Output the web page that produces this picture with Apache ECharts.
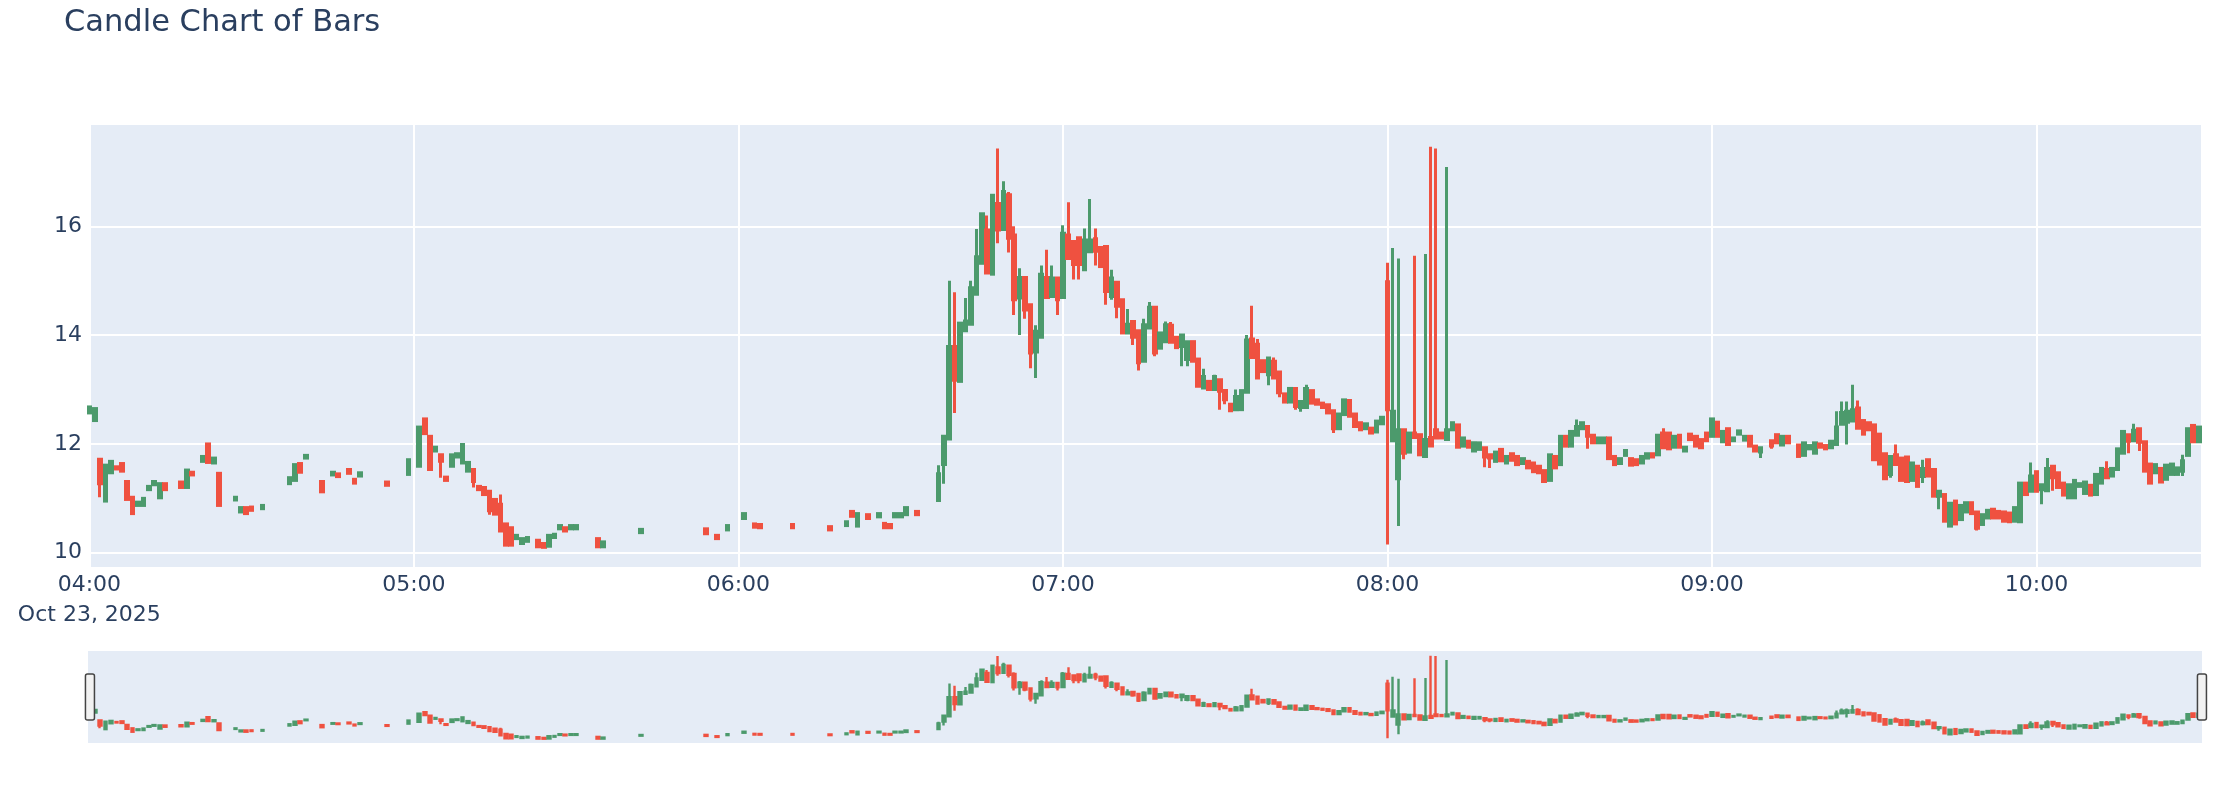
<!DOCTYPE html>
<html>
<head>
<meta charset="utf-8">
<script src="https://cdn.jsdelivr.net/npm/echarts@6/dist/echarts.min.js"></script>
<style>
html,body{margin:0;padding:0;background:#ffffff;}
#chart{width:2220px;height:800px;}
</style>
</head>
<body>
<div id="chart"></div>
<script>
// ---- data ----
const chartTitle = 'Candle Chart of Bars';
const dateLabel = 'Oct 23, 2025';

const times = [
"04:00","04:01","04:02","04:03","04:04","04:05","04:06","04:07","04:08","04:09","04:10","04:11","04:12","04:13","04:14","04:17","04:18","04:19","04:21","04:22","04:23","04:24","04:27","04:28","04:29","04:30","04:32","04:37","04:38","04:39","04:40","04:43","04:45","04:46","04:48","04:49","04:50","04:55","04:59",
"05:01","05:02","05:03","05:04","05:05","05:06","05:07","05:08","05:09","05:10","05:11","05:12","05:13","05:14","05:15","05:16","05:17","05:18","05:19","05:20","05:21","05:23","05:24","05:25","05:26","05:27","05:28","05:29","05:30","05:34","05:35","05:42","05:54","05:56","05:58",
"06:01","06:03","06:04","06:10","06:17","06:20","06:21","06:22","06:24","06:26","06:27","06:28","06:29","06:30","06:31","06:33",
"06:37","06:38","06:39","06:40","06:41","06:42","06:43","06:44","06:45","06:46","06:47","06:48","06:49","06:50","06:51","06:52","06:53","06:54","06:55","06:56","06:57","06:58","06:59",
"07:00","07:01","07:02","07:03","07:04","07:05","07:06","07:07","07:08","07:09","07:10","07:11","07:12","07:13","07:14","07:15","07:16","07:17","07:18","07:19",
"07:20","07:21","07:22","07:23","07:24","07:25","07:26","07:27","07:28","07:29","07:30","07:31","07:32","07:33","07:34","07:35","07:36","07:37","07:38","07:39",
"07:40","07:41","07:42","07:43","07:44","07:45","07:46","07:47","07:48","07:49","07:50","07:51","07:52","07:53","07:54","07:55","07:56","07:57","07:58","07:59",
"08:00","08:01","08:02","08:03","08:04","08:05","08:06","08:07","08:08","08:09","08:10","08:11","08:12","08:13","08:14","08:15","08:16","08:17","08:18","08:19",
"08:20","08:21","08:22","08:23","08:24","08:25","08:26","08:27","08:28","08:29","08:30","08:31","08:32","08:33","08:34","08:35","08:36","08:37","08:38","08:39",
"08:40","08:41","08:42","08:43","08:44","08:45","08:46","08:47","08:48","08:49","08:50","08:51","08:52","08:53","08:54","08:55","08:56","08:57","08:58","08:59",
"09:00","09:01","09:02","09:03","09:04","09:05","09:06","09:07","09:08","09:09","09:11","09:12","09:13","09:14",
"09:16","09:17","09:18","09:19","09:20","09:21","09:22","09:23","09:24","09:25","09:26","09:27","09:28","09:29",
"09:30","09:31","09:32","09:33","09:34","09:35","09:36","09:37","09:38","09:39","09:40","09:41","09:42","09:43","09:44","09:45","09:46","09:47","09:48","09:49",
"09:50","09:51","09:52","09:53","09:54","09:55","09:56","09:57","09:58","09:59",
"10:00","10:01","10:02","10:03","10:04","10:05","10:06","10:07","10:08","10:09","10:10","10:11","10:12","10:13","10:14","10:15","10:16","10:17","10:18","10:19",
"10:20","10:21","10:22","10:23","10:24","10:25","10:26","10:27","10:28","10:29","10:30"
];

const opens = [
12.57,12.43,11.72,10.95,11.47,11.58,11.64,11.31,11.02,10.87,10.87,11.16,11.25,11.01,11.27,11.30,11.20,11.48,11.68,12.00,11.65,11.46,10.97,10.75,10.83,10.84,10.81,11.27,11.33,11.64,11.74,11.31,11.43,11.45,11.53,11.35,11.41,11.30,11.44,
11.59,12.46,12.14,11.87,11.80,11.39,11.59,11.76,11.65,11.50,11.53,11.22,11.20,11.13,10.98,10.89,10.53,10.46,10.26,10.17,10.21,10.23,10.17,10.12,10.28,10.44,10.46,10.44,10.44,10.26,10.11,10.37,10.44,10.32,10.42,
10.63,10.53,10.52,10.52,10.48,10.50,10.76,10.49,10.70,10.66,10.54,10.52,10.66,10.66,10.70,10.76,
10.96,11.62,12.09,13.79,13.15,14.08,14.20,14.75,15.32,15.93,15.12,16.42,15.94,16.58,15.84,14.68,15.06,14.56,13.69,13.96,15.06,14.71,15.05,
14.69,15.84,15.72,15.79,15.20,15.53,15.77,15.61,15.63,14.71,14.97,14.65,14.04,14.25,14.08,13.52,14.13,14.51,13.76,13.88,
14.18,13.96,13.79,13.55,13.88,13.56,13.03,13.15,13.00,13.18,12.98,12.73,12.63,12.63,12.95,13.93,13.83,13.53,13.27,13.52,
13.32,12.92,12.77,13.02,12.67,12.67,12.98,12.81,12.75,12.72,12.61,12.28,12.54,12.80,12.55,12.39,12.28,12.29,12.22,12.37,
14.98,12.06,11.36,12.26,11.85,12.20,12.17,11.77,12.12,12.26,12.20,12.08,12.26,12.35,11.96,12.05,11.87,11.90,11.93,11.80,
11.68,11.90,11.65,11.82,11.77,11.64,11.68,11.65,11.59,11.51,11.33,11.77,11.62,12.14,11.96,12.16,12.28,12.32,12.16,12.02,
12.02,12.11,11.77,11.64,11.79,11.73,11.71,11.65,11.74,11.82,11.80,12.20,12.20,11.94,12.16,11.87,12.18,12.14,12.08,12.20,
12.14,12.40,12.04,12.28,12.06,12.18,12.07,12.14,11.96,11.85,12.06,12.17,11.98,12.14,
11.98,11.79,11.91,11.83,12.00,11.97,11.93,11.99,12.36,12.40,12.42,12.66,12.43,12.39,
12.35,12.18,11.82,11.44,11.80,11.74,11.76,11.33,11.59,11.40,11.71,11.53,11.04,11.07,10.49,10.95,10.61,10.75,10.92,10.75,
10.52,10.64,10.80,10.76,10.75,10.73,10.58,10.57,11.28,11.13,
11.49,11.16,11.14,11.59,11.47,11.28,11.01,11.01,11.22,11.09,11.24,11.07,11.28,11.53,11.41,11.53,11.83,12.17,12.06,12.28,
12.04,11.63,11.47,11.55,11.35,11.44,11.44,11.50,11.79,12.34,12.04
];

const closes = [
12.68,12.65,11.27,11.61,11.68,11.54,11.50,10.98,10.72,10.93,11.00,11.22,11.31,11.27,11.16,11.20,11.52,11.43,11.77,11.66,11.74,10.87,11.02,10.83,10.72,10.78,10.87,11.38,11.62,11.48,11.79,11.12,11.48,11.40,11.46,11.28,11.47,11.24,11.71,
12.31,12.19,11.53,11.94,11.68,11.33,11.80,11.82,11.99,11.66,11.31,11.16,11.07,10.77,10.71,10.40,10.14,10.14,10.32,10.26,10.28,10.11,10.10,10.32,10.34,10.50,10.40,10.50,10.50,10.11,10.20,10.43,10.35,10.26,10.50,
10.72,10.47,10.46,10.46,10.42,10.57,10.67,10.72,10.63,10.72,10.46,10.46,10.72,10.72,10.83,10.70,
11.45,12.14,13.79,13.17,14.22,14.26,14.87,15.44,16.23,15.14,16.57,15.93,16.64,15.78,14.65,15.06,14.46,13.67,14.07,15.12,14.69,15.05,14.65,
15.87,15.41,15.30,15.30,15.75,15.75,15.54,15.26,14.80,15.05,14.53,14.04,14.20,13.96,13.49,14.19,14.51,13.67,14.04,14.19,
13.87,13.77,14.00,13.88,13.52,13.06,13.24,13.00,13.24,12.97,12.81,12.61,12.87,12.98,13.91,13.59,13.21,13.33,13.58,13.21,
12.94,12.77,13.02,12.69,12.78,13.02,12.75,12.73,12.67,12.57,12.28,12.55,12.81,12.51,12.32,12.26,12.37,12.20,12.42,12.49,
12.63,12.60,12.26,11.83,12.20,12.12,11.80,12.08,11.96,12.11,12.11,12.26,12.39,11.94,12.11,11.94,12.02,12.02,11.76,11.74,
11.85,11.69,11.77,11.70,11.62,11.73,11.56,11.49,11.47,11.31,11.80,11.56,12.14,11.96,12.23,12.32,12.39,12.14,12.02,12.11,
12.11,11.73,11.62,11.73,11.88,11.61,11.62,11.77,11.82,11.76,12.16,11.93,11.91,12.14,11.94,11.94,12.08,11.96,11.93,12.06,
12.46,12.14,12.23,11.99,12.11,12.24,12.14,11.96,11.87,11.93,11.96,12.02,12.14,12.02,
11.77,12.02,11.97,12.02,11.94,11.91,12.05,12.31,12.58,12.60,12.63,12.29,12.18,12.26,
11.71,11.63,11.36,11.77,11.62,11.33,11.31,11.65,11.22,11.55,11.41,11.04,11.13,10.58,10.91,10.53,10.87,10.92,10.72,10.45,
10.70,10.78,10.64,10.64,10.58,10.57,10.83,11.28,11.07,11.41,
11.13,11.25,11.55,11.38,11.20,11.06,11.25,11.33,11.27,11.30,11.06,11.44,11.55,11.38,11.55,11.91,12.23,12.05,12.25,12.03,
11.50,11.28,11.62,11.30,11.61,11.63,11.56,11.69,12.28,12.04,12.31
];

const lows = [
12.57,12.43,11.02,10.95,11.47,11.54,11.50,10.98,10.72,10.87,10.87,11.16,11.25,11.01,11.16,11.20,11.20,11.43,11.68,11.66,11.65,10.87,10.97,10.75,10.72,10.78,10.81,11.27,11.33,11.48,11.74,11.12,11.43,11.40,11.46,11.28,11.41,11.24,11.44,
11.59,12.19,11.53,11.87,11.38,11.33,11.59,11.76,11.65,11.50,11.20,11.16,11.07,10.70,10.71,10.40,10.14,10.14,10.26,10.17,10.21,10.11,10.10,10.12,10.28,10.44,10.40,10.44,10.44,10.11,10.11,10.37,10.35,10.26,10.42,
10.63,10.47,10.46,10.46,10.42,10.50,10.67,10.49,10.63,10.66,10.46,10.46,10.66,10.66,10.70,10.70,
10.96,11.27,12.09,12.57,13.15,14.08,14.20,14.75,15.32,15.14,15.12,15.69,15.94,15.52,14.37,14.00,14.30,13.39,13.21,13.96,14.69,14.71,14.37,
14.69,15.41,15.02,15.02,15.20,15.53,15.28,15.26,14.56,14.65,14.31,14.04,14.04,13.82,13.35,13.52,14.13,13.61,13.76,13.88,
13.87,13.77,13.43,13.43,13.52,13.06,13.03,13.00,13.00,12.63,12.73,12.61,12.63,12.63,12.95,13.59,13.21,13.33,13.08,13.21,
12.86,12.77,12.77,12.63,12.59,12.67,12.75,12.73,12.67,12.57,12.20,12.28,12.54,12.48,12.32,12.26,12.28,12.20,12.22,12.37,
10.15,12.06,10.49,11.72,11.85,12.12,11.80,11.77,11.96,12.11,12.11,12.08,12.26,11.94,11.96,11.94,11.86,11.90,11.57,11.56,
11.68,11.69,11.65,11.70,11.62,11.64,11.56,11.49,11.47,11.31,11.33,11.56,11.62,11.96,11.96,12.16,12.28,11.91,12.02,12.02,
12.02,11.73,11.62,11.64,11.79,11.61,11.62,11.65,11.74,11.76,11.80,11.93,11.91,11.94,11.94,11.87,12.08,11.96,11.93,12.06,
12.14,12.14,12.04,11.99,12.06,12.18,12.07,11.96,11.87,11.74,11.91,12.02,11.98,12.02,
11.77,11.79,11.91,11.83,11.94,11.91,11.93,11.99,12.36,11.99,12.42,12.29,12.18,12.26,
11.71,11.63,11.34,11.38,11.62,11.33,11.31,11.33,11.22,11.28,11.41,11.04,10.80,10.58,10.49,10.53,10.61,10.75,10.72,10.41,
10.52,10.64,10.64,10.64,10.58,10.57,10.58,10.57,11.07,11.13,
11.13,10.89,11.14,11.14,11.20,11.06,11.01,11.01,11.22,11.09,11.06,11.07,11.28,11.38,11.41,11.53,11.83,11.83,12.06,11.87,
11.50,11.28,11.47,11.30,11.35,11.44,11.44,11.41,11.79,12.04,12.04
];

const highs = [
12.68,12.65,11.72,11.61,11.68,11.58,11.64,11.31,11.02,10.93,11.00,11.22,11.31,11.27,11.27,11.30,11.52,11.48,11.77,12.00,11.74,11.46,11.02,10.83,10.83,10.84,10.87,11.38,11.62,11.64,11.79,11.31,11.48,11.45,11.53,11.35,11.47,11.30,11.71,
12.31,12.46,12.14,11.94,11.80,11.39,11.80,11.82,11.99,11.66,11.53,11.22,11.20,11.13,10.98,11.07,10.53,10.46,10.32,10.26,10.28,10.23,10.17,10.32,10.34,10.50,10.46,10.50,10.50,10.26,10.20,10.43,10.44,10.32,10.50,
10.72,10.53,10.52,10.52,10.48,10.57,10.76,10.72,10.70,10.72,10.54,10.52,10.72,10.72,10.83,10.76,
11.61,12.14,15.00,14.79,14.22,14.68,15.00,15.95,16.23,16.20,16.57,17.43,16.83,16.63,16.00,15.23,15.06,14.56,14.18,15.28,15.57,15.28,15.05,
16.02,16.44,15.72,15.79,15.96,16.50,15.96,15.61,15.63,15.20,14.97,14.65,14.48,14.25,14.08,14.30,14.61,14.51,14.04,14.25,
14.24,13.96,14.00,13.88,13.88,13.56,13.38,13.15,13.27,13.18,12.98,12.73,13.00,12.98,14.00,14.54,13.93,13.53,13.58,13.59,
13.32,12.92,13.02,13.02,12.78,13.09,12.98,12.81,12.75,12.72,12.61,12.55,12.81,12.80,12.55,12.39,12.37,12.29,12.42,12.49,
15.33,15.60,15.41,12.26,12.20,15.46,12.17,15.49,17.46,17.43,12.20,17.09,12.39,12.35,12.11,12.05,12.02,12.02,11.93,11.80,
11.85,11.90,11.77,11.82,11.77,11.73,11.68,11.65,11.59,11.51,11.80,11.77,12.14,12.14,12.23,12.45,12.39,12.32,12.16,12.11,
12.11,12.11,11.77,11.73,11.88,11.73,11.71,11.77,11.82,11.82,12.16,12.29,12.20,12.14,12.16,11.94,12.18,12.14,12.08,12.20,
12.46,12.40,12.23,12.28,12.11,12.24,12.14,12.14,11.96,11.93,12.06,12.17,12.14,12.14,
11.98,12.02,11.97,12.02,12.00,11.97,12.05,12.60,12.78,12.78,13.09,12.80,12.43,12.39,
12.35,12.18,11.82,11.77,11.99,11.74,11.76,11.65,11.59,11.71,11.71,11.53,11.13,11.07,10.91,10.95,10.87,10.92,10.92,10.75,
10.70,10.78,10.80,10.76,10.75,10.73,10.83,11.28,11.28,11.66,
11.49,11.25,11.74,11.59,11.47,11.28,11.25,11.33,11.27,11.30,11.24,11.44,11.55,11.68,11.55,11.91,12.23,12.17,12.37,12.28,
12.04,11.63,11.62,11.55,11.61,11.63,11.56,11.80,12.28,12.34,12.31
];

// ---- build ----
function toTs(hhmm) {
  const p = hhmm.split(':');
  return new Date(2025, 9, 23, +p[0], +p[1]).getTime();
}
const candleData = times.map((t, i) => [toTs(t), opens[i], closes[i], lows[i], highs[i]]);

const xMin = toTs(times[0]) - 15 * 1000;
const xMax = toTs(times[times.length - 1]) + 36 * 1000;
const yMin = 9.72, yMax = 17.88;

const FONT = 'DejaVu Sans, Verdana, sans-serif';
const INK = '#2a3f5f';
const PLOT_BG = '#E5ECF6';
const UP_LINE = '#4C9A6C', DOWN_LINE = '#EF5140';
const UP_FILL = '#569A72', DOWN_FILL = '#EE5647';

function pad2(n) { return (n < 10 ? '0' : '') + n; }

const candleStyle = {
  color: UP_FILL, color0: DOWN_FILL,
  borderColor: UP_LINE, borderColor0: DOWN_LINE,
  borderWidth: 3
};

const chart = echarts.init(document.getElementById('chart'), null, { renderer: 'canvas' });
chart.setOption({
  animation: false,
  backgroundColor: '#ffffff',
  title: {
    text: chartTitle, left: 59, top: 3,
    textStyle: { fontFamily: FONT, fontSize: 30.5, fontWeight: 'normal', color: INK }
  },
  grid: [
    { left: 88, top: 124, width: 2114, height: 444, show: true, backgroundColor: PLOT_BG, borderWidth: 0, outerBoundsMode: 'none', containLabel: false },
    { left: 88, top: 651, width: 2114, height: 92, show: true, backgroundColor: PLOT_BG, borderWidth: 0, outerBoundsMode: 'none', containLabel: false }
  ],
  xAxis: [
    {
      type: 'time', gridIndex: 0, min: xMin, max: xMax,
      minInterval: 3600 * 1000, maxInterval: 3600 * 1000,
      axisLine: { show: false }, axisTick: { show: false },
      splitLine: { show: true, lineStyle: { color: '#ffffff', width: 2 } },
      axisLabel: {
        show: true, showMinLabel: false, showMaxLabel: false, hideOverlap: false,
        margin: 2, color: INK, fontFamily: FONT, fontSize: 22, lineHeight: 30,
        formatter: function (val) {
          const d = new Date(val);
          const s = pad2(d.getHours()) + ':' + pad2(d.getMinutes());
          return (d.getHours() === 4 && d.getMinutes() === 0) ? s + '\n' + dateLabel : s;
        }
      },
      axisPointer: { show: false }
    },
    {
      type: 'time', gridIndex: 1, min: xMin, max: xMax,
      axisLine: { show: false }, axisTick: { show: false },
      splitLine: { show: false }, axisLabel: { show: false }
    }
  ],
  yAxis: [
    {
      type: 'value', gridIndex: 0, min: yMin, max: yMax, scale: true,
      axisLine: { show: false }, axisTick: { show: false },
      splitLine: { show: true, lineStyle: { color: '#ffffff', width: 2 } },
      axisLabel: { showMinLabel: false, showMaxLabel: false, margin: 6, color: INK, fontFamily: FONT, fontSize: 22 }
    },
    {
      type: 'value', gridIndex: 1, min: yMin, max: yMax, scale: true,
      axisLine: { show: false }, axisTick: { show: false },
      splitLine: { show: false }, axisLabel: { show: false }
    }
  ],
  dataZoom: [{
    type: 'slider', xAxisIndex: [0], start: 0, end: 100, filterMode: 'none',
    left: 88, width: 2114, top: 651, height: 92,
    backgroundColor: 'rgba(0,0,0,0)', borderColor: 'rgba(0,0,0,0)',
    fillerColor: 'rgba(0,0,0,0)',
    showDataShadow: false, showDetail: false, brushSelect: false,
    dataBackground: { lineStyle: { opacity: 0 }, areaStyle: { opacity: 0 } },
    selectedDataBackground: { lineStyle: { opacity: 0 }, areaStyle: { opacity: 0 } },
    moveHandleSize: 0,
    handleIcon: 'path://M2,0 L7,0 Q9,0 9,2 L9,44 Q9,46 7,46 L2,46 Q0,46 0,44 L0,2 Q0,0 2,0 Z',
    handleSize: '50%',
    handleStyle: { color: '#f2f2f2', borderColor: '#444444', borderWidth: 1.5 },
    emphasis: { handleStyle: { color: '#f2f2f2', borderColor: '#444444' } }
  }],
  series: [
    {
      type: 'candlestick', xAxisIndex: 0, yAxisIndex: 0,
      encode: { x: 0, y: [1, 2, 3, 4] },
      data: candleData, barWidth: 3.2, itemStyle: candleStyle
    },
    {
      type: 'candlestick', xAxisIndex: 1, yAxisIndex: 1,
      encode: { x: 0, y: [1, 2, 3, 4] },
      data: candleData, barWidth: 3.2, itemStyle: Object.assign({}, candleStyle, { borderWidth: 2.4 })
    }
  ]
});
</script>
</body>
</html>
